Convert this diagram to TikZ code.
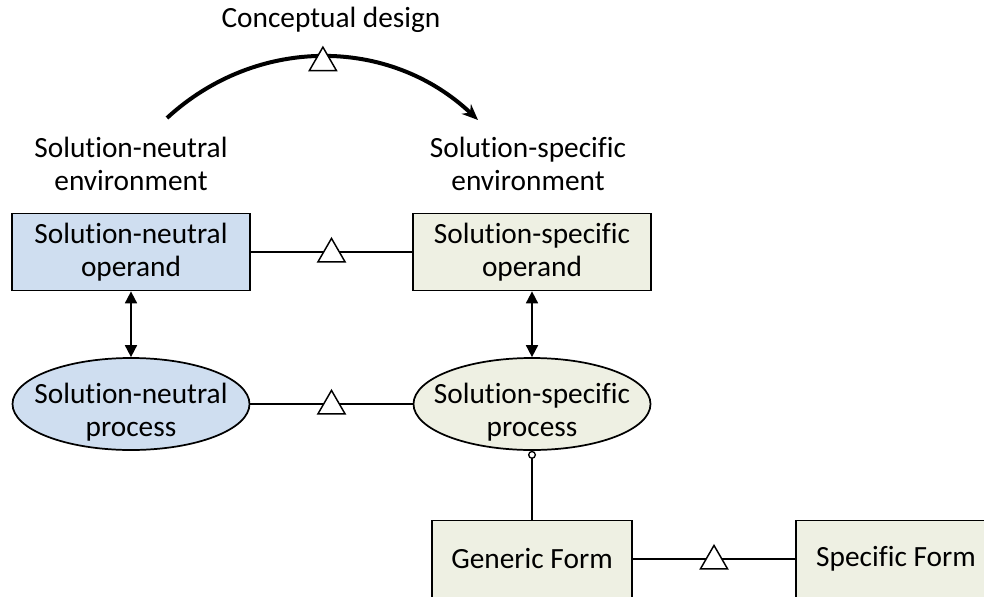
\documentclass[tikz,border=0pt]{standalone}
\usepackage{fontspec}
\setmainfont[Ligatures=NoCommon]{Carlito}
\usetikzlibrary{arrows.meta,shapes.geometric,positioning}
\definecolor{neutralblue}{RGB}{207,222,240}
\definecolor{specificgreen}{RGB}{238,240,227}

\begin{document}
\begin{tikzpicture}[x=0.75pt,y=-0.75pt,>={Triangle[length=9pt,width=9pt]},line width=1.3pt,
                    every node/.style={font=\fontsize{22}{24.75}\selectfont,align=center},
                    op node/.style={rectangle,draw,minimum width=178.5pt,minimum height=57.75pt,inner sep=0pt},
                    proc node/.style={ellipse,draw,minimum width=177.75pt,minimum height=69pt,inner sep=0pt},
                    form node/.style={rectangle,draw,fill=specificgreen,minimum width=150pt,minimum height=57.75pt},
                    tri/.style={regular polygon,regular polygon sides=3,draw,fill=white,line width=1.1pt,
                                minimum size=23.4pt,inner sep=0pt,yshift=-1.5pt}]
  \clip (0,0) rectangle (984,596);
  \node[op node,fill=neutralblue] (snop) at (131,252) {Solution-neutral\\operand};
  \node[op node,fill=specificgreen] (ssop) [right of=snop,node distance=300.75pt] {Solution-specific\\operand};
  \node[proc node,fill=neutralblue,label={[yshift=-6.2pt]center:Solution-neutral\\process}] (snp) [below of=snop,node distance=114pt] {};
  \node[proc node,fill=specificgreen,label={[yshift=-6.2pt]center:Solution-specific\\process}] (ssp) [below of=ssop,node distance=114pt] {};
  \node[form node] (gf) [below of=ssp,node distance=116.25pt] {Generic Form};
  \node[form node] (sf) [right of=gf,node distance=273pt] {Specific Form};
  \node (snenv) [above of=snop,node distance=66pt] {Solution-neutral\\environment};
  \node (ssenv) [above of=ssop,node distance=66pt,xshift=-3pt] {Solution-specific\\environment};
  \node (cd) at (331,20) {Conceptual design};
  \coordinate (cdstart) at (167,118);
  \coordinate (cdend) at (478,120);
  \draw[line width=3pt,-{Stealth[length=12pt,width=10pt]}] (cdstart) to[bend left=43]
    node[tri,yshift=-3pt] {} (cdend);
  \path (snop) edge node[tri] {} (ssop)
        (snp) edge node[tri] {} (ssp)
        (gf) edge node[tri] {} (sf)
        (snop) edge[<->] (snp)
        (ssop) edge[<->] (ssp)
        (ssp) edge[{Circle[open,length=6pt,width=6pt,line width=1pt]}-] (gf);
\end{tikzpicture}
\end{document}
